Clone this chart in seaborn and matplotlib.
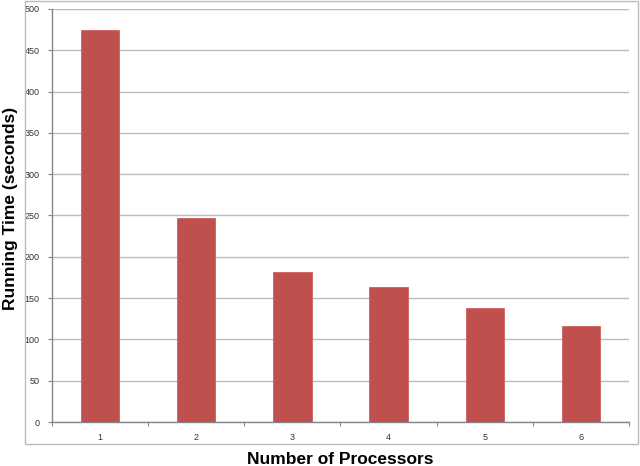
import matplotlib
matplotlib.use('Agg')
import matplotlib.pyplot as plt
import seaborn as sns
import pandas as pd
from matplotlib.patches import Rectangle

processors = ['1', '2', '3', '4', '5', '6']
running_time = [475, 247, 181, 163, 138, 116]
yticks = [0, 50, 100, 150, 200, 250, 300, 350, 400, 450, 500]

sns.set_style('white')
plt.rcParams['font.family'] = ['Liberation Sans', 'DejaVu Sans']

df = pd.DataFrame({'Processors': processors, 'Time': running_time})

fig = plt.figure(figsize=(6.4, 4.66), dpi=100)
ax = fig.add_axes([52/640, 1-422/466, (629-52)/640, (422-9)/466])

sns.barplot(data=df, x='Processors', y='Time', color='#C0504D', width=0.4,
            saturation=1, edgecolor='#D0605D', linewidth=0.6, ax=ax, zorder=3)

ax.set_ylim(0, 500)
ax.set_xlim(-0.5, 5.5)
ax.set_yticks(yticks)
ax.set_yticklabels([str(v) for v in yticks], fontsize=6.5, color='#333333')
ax.tick_params(axis='x', labelsize=6.5, labelcolor='#333333', length=0, pad=8)
ax.tick_params(axis='y', length=3, width=0.8, color='#868686', pad=6, left=True)
# category boundary ticks on x axis
ax.set_xticks([i - 0.5 for i in range(7)], minor=True)
ax.tick_params(axis='x', which='minor', length=3, width=0.8, color='#868686', bottom=True)

ax.yaxis.grid(True, color='#BBBBBB', linewidth=1)
ax.set_axisbelow(True)
for s in ['top', 'right']:
    ax.spines[s].set_visible(False)
for s in ['left', 'bottom']:
    ax.spines[s].set_color('#868686')
    ax.spines[s].set_linewidth(1)

ax.set_xlabel('')
ax.set_ylabel('')
fig.text(340/640, 1-460/466, 'Number of Processors', ha='center', va='center',
         fontsize=12.5, fontweight='heavy', color='black')
fig.text(11/640, 1-208/466, 'Running Time (seconds)', ha='center', va='center',
         rotation=90, fontsize=12.5, fontweight='heavy', color='black')

fig.patches.append(Rectangle((25/640, 1-444/466), (638-25)/640, 444/466 - 0.002,
                             transform=fig.transFigure, fill=False,
                             edgecolor='#BBBBBB', linewidth=1))

fig.savefig('out.png', dpi=100)
